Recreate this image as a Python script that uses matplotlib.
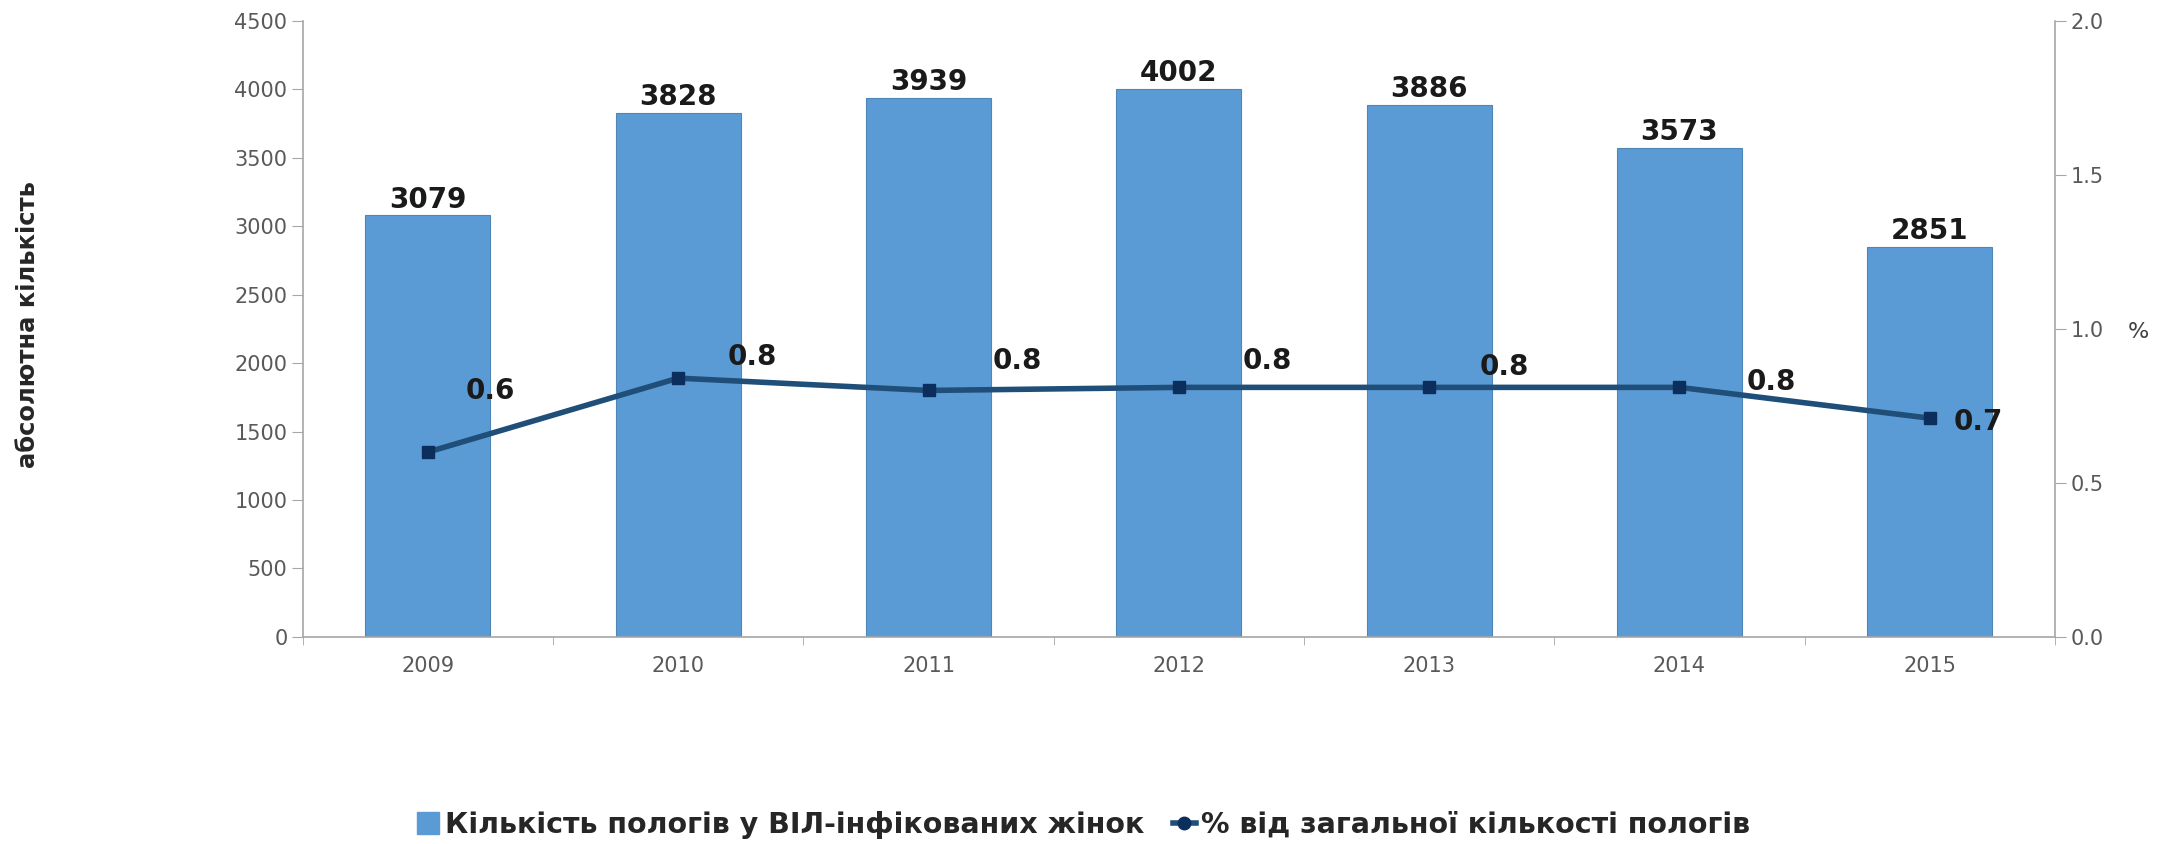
import matplotlib
matplotlib.use("Agg")
import matplotlib.pyplot as plt
from matplotlib.lines import Line2D
from matplotlib.patches import Patch

years = ["2009", "2010", "2011", "2012", "2013", "2014", "2015"]
births = [3079, 3828, 3939, 4002, 3886, 3573, 2851]
percent = [0.60, 0.84, 0.80, 0.81, 0.81, 0.81, 0.71]
percent_labels = ["0.6", "0.8", "0.8", "0.8", "0.8", "0.8", "0.7"]
label_offsets = [(45, 44), (53, 15), (64, 21), (64, 19), (54, 15), (66, 4), (35, -3)]

bar_name = "Кількість пологів у ВІЛ-інфікованих жінок"
line_name = "% від загальної кількості пологів"

grey = "#595959"
axis_grey = "#a6a6a6"

fig = plt.figure(figsize=(21.67, 8.44), dpi=100)
ax = fig.add_axes([0.1397, 0.2453, 0.8086, 0.7302])
x = list(range(len(years)))

ax.bar(x, births, width=0.5, color="#5b9bd5", edgecolor="#4f86b8", linewidth=0.8, zorder=2)
for xi, v in zip(x, births):
    ax.annotate(str(v), (xi, v), xytext=(0, 1), textcoords="offset points",
                ha="center", va="bottom", fontsize=20, fontweight="bold", color="#1a1a1a")

ax.set_xlim(-0.5, len(years) - 0.5)
ax.set_ylim(0, 4500)
ax.set_yticks(range(0, 4501, 500))
ax.set_xticks(x)
ax.set_xticklabels(years)
ax.set_xticks([i - 0.5 for i in range(len(years) + 1)], minor=True)
ax.tick_params(axis="x", which="major", length=0, pad=14, labelsize=15, labelcolor=grey)
ax.tick_params(axis="x", which="minor", length=6, direction="out", color=axis_grey)
ax.tick_params(axis="y", length=8, direction="out", color=axis_grey, labelsize=15, labelcolor=grey, pad=3)
for s in ["top", "right"]:
    ax.spines[s].set_visible(False)
for s in ["left", "bottom"]:
    ax.spines[s].set_color(axis_grey)
    ax.spines[s].set_linewidth(1.2)

ax2 = ax.twinx()
ax2.plot(x, percent, color="#1f4e79", linewidth=4, marker="s", markersize=8,
         markerfacecolor="#0b2e5c", markeredgecolor="#0b2e5c", zorder=3)
for xi, v, lab, off in zip(x, percent, percent_labels, label_offsets):
    ax2.annotate(lab, (xi, v), xytext=off, textcoords="offset points",
                 ha="center", va="center", fontsize=20, fontweight="bold", color="#1a1a1a")
ax2.set_ylim(0, 2.0)
ax2.set_yticks([0.0, 0.5, 1.0, 1.5, 2.0])
ax2.set_yticklabels(["0.0", "0.5", "1.0", "1.5", "2.0"])
ax2.tick_params(axis="y", length=8, direction="out", color=axis_grey, labelsize=15, labelcolor=grey, pad=3)
for s in ["top", "left", "bottom"]:
    ax2.spines[s].set_visible(False)
ax2.spines["right"].set_color(axis_grey)
ax2.spines["right"].set_linewidth(1.2)

fig.text(0.013, 0.615, "абсолютна кількість", rotation=90, ha="center", va="center",
         fontsize=17.5, fontweight="bold", color="#262626")
fig.text(0.987, 0.607, "%", ha="center", va="center", fontsize=16, color="#404040")

handles = [Patch(facecolor="#5b9bd5", edgecolor="#5b9bd5"),
           Line2D([0], [0], color="#1f4e79", lw=4, marker="o", markersize=9,
                  markerfacecolor="#0b2e5c", markeredgecolor="#0b2e5c")]
fig.legend(handles, [bar_name, line_name], loc="center", bbox_to_anchor=(0.5, 0.0225),
           ncol=2, frameon=False, handlelength=0.8, handleheight=0.8, handletextpad=0.2,
           columnspacing=1.0, prop={"weight": "bold", "size": 20.5},
           labelcolor="#262626")

fig.savefig("out.png", dpi=100)
